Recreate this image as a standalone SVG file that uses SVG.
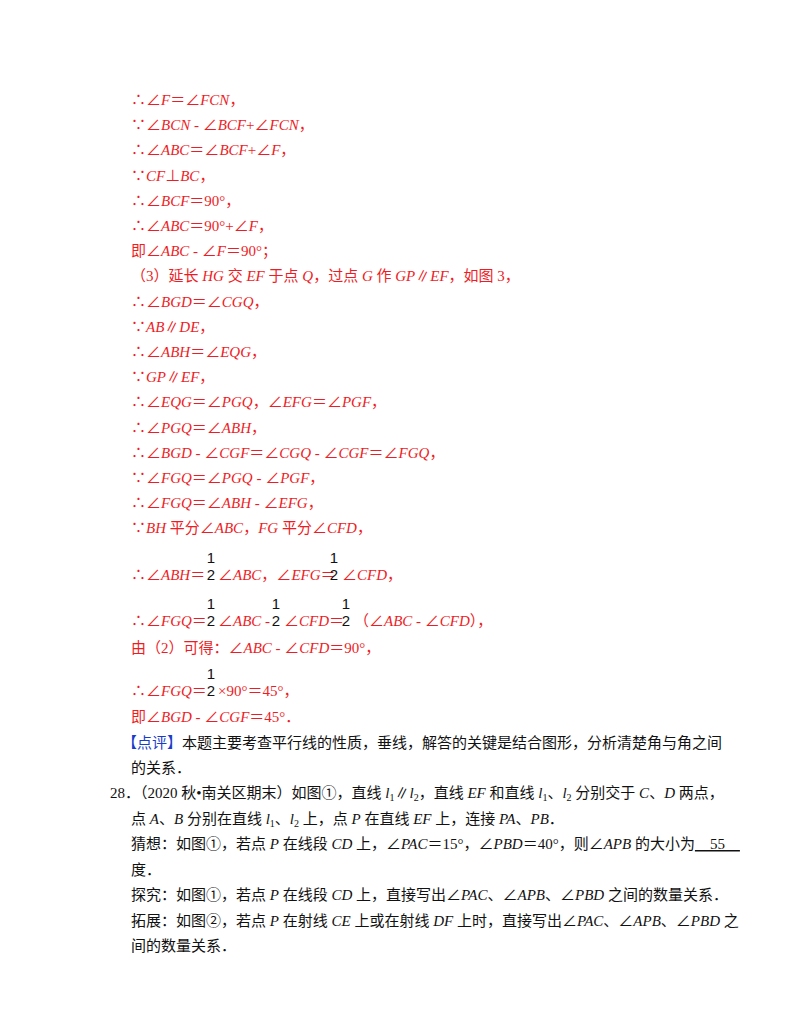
<svg xmlns="http://www.w3.org/2000/svg" width="800" height="1035" viewBox="0 0 800 1035">
<style>
text{font-family:"Liberation Serif","Noto Sans CJK SC",serif;font-size:15px}
.r{fill:#ee1c25}.k{fill:#111}.b{fill:#1a3ccc}
.i{font-style:italic}
.f{font-family:"Liberation Sans","Noto Sans CJK SC",sans-serif;font-size:15px;fill:#111;text-anchor:middle}
</style>
<rect width="800" height="1035" fill="#fff"/>
<g id="solution" class="r">
<text x="131" y="105" class="r">∴∠<tspan class="i">F</tspan>＝∠<tspan class="i">FCN</tspan>，</text>
<text x="131" y="130" class="r">∵∠<tspan class="i">BCN</tspan> - ∠<tspan class="i">BCF</tspan>+∠<tspan class="i">FCN</tspan>，</text>
<text x="131" y="155" class="r">∴∠<tspan class="i">ABC</tspan>＝∠<tspan class="i">BCF</tspan>+∠<tspan class="i">F</tspan>，</text>
<text x="131" y="181" class="r">∵<tspan class="i">CF</tspan>⊥<tspan class="i">BC</tspan>，</text>
<text x="131" y="206" class="r">∴∠<tspan class="i">BCF</tspan>＝90°，</text>
<text x="131" y="231" class="r">∴∠<tspan class="i">ABC</tspan>＝90°+∠<tspan class="i">F</tspan>，</text>
<text x="131" y="256" class="r">即∠<tspan class="i">ABC</tspan> - ∠<tspan class="i">F</tspan>＝90°；</text>
<text x="131" y="281" class="r">（3）延长 <tspan class="i">HG</tspan> 交 <tspan class="i">EF</tspan> 于点 <tspan class="i">Q</tspan>，过点 <tspan class="i">G</tspan> 作 <tspan class="i">GP</tspan>∥<tspan class="i">EF</tspan>，如图 3，</text>
<text x="131" y="307" class="r">∴∠<tspan class="i">BGD</tspan>＝∠<tspan class="i">CGQ</tspan>，</text>
<text x="131" y="332" class="r">∵<tspan class="i">AB</tspan>∥<tspan class="i">DE</tspan>，</text>
<text x="131" y="357" class="r">∴∠<tspan class="i">ABH</tspan>＝∠<tspan class="i">EQG</tspan>，</text>
<text x="131" y="382" class="r">∵<tspan class="i">GP</tspan>∥<tspan class="i">EF</tspan>，</text>
<text x="131" y="407" class="r">∴∠<tspan class="i">EQG</tspan>＝∠<tspan class="i">PGQ</tspan>，∠<tspan class="i">EFG</tspan>＝∠<tspan class="i">PGF</tspan>，</text>
<text x="131" y="433" class="r">∴∠<tspan class="i">PGQ</tspan>＝∠<tspan class="i">ABH</tspan>，</text>
<text x="131" y="458" class="r">∴∠<tspan class="i">BGD</tspan> - ∠<tspan class="i">CGF</tspan>＝∠<tspan class="i">CGQ</tspan> - ∠<tspan class="i">CGF</tspan>＝∠<tspan class="i">FGQ</tspan>，</text>
<text x="131" y="483" class="r">∵∠<tspan class="i">FGQ</tspan>＝∠<tspan class="i">PGQ</tspan> - ∠<tspan class="i">PGF</tspan>，</text>
<text x="131" y="508" class="r">∴∠<tspan class="i">FGQ</tspan>＝∠<tspan class="i">ABH</tspan> - ∠<tspan class="i">EFG</tspan>，</text>
<text x="131" y="533" class="r">∵<tspan class="i">BH</tspan> 平分∠<tspan class="i">ABC</tspan>，<tspan class="i">FG</tspan> 平分∠<tspan class="i">CFD</tspan>，</text>
<text x="131" y="580" class="r">∴∠<tspan class="i">ABH</tspan>＝</text>
<text x="218" y="580" class="r">∠<tspan class="i">ABC</tspan>，∠<tspan class="i">EFG</tspan>＝</text>
<text x="342" y="580" class="r">∠<tspan class="i">CFD</tspan>，</text>
<text x="131" y="626" class="r">∴∠<tspan class="i">FGQ</tspan>＝</text>
<text x="218" y="626" class="r">∠<tspan class="i">ABC</tspan> -</text>
<text x="284" y="626" class="r">∠<tspan class="i">CFD</tspan>＝</text>
<text x="354" y="626" class="r">（∠<tspan class="i">ABC</tspan> - ∠<tspan class="i">CFD</tspan>），</text>
<text x="131" y="653" class="r">由（2）可得：∠<tspan class="i">ABC</tspan> - ∠<tspan class="i">CFD</tspan>＝90°，</text>
<text x="131" y="696" class="r">∴∠<tspan class="i">FGQ</tspan>＝</text>
<text x="218" y="696" class="r">×90°＝45°，</text>
<text x="131" y="722" class="r">即∠<tspan class="i">BGD</tspan> - ∠<tspan class="i">CGF</tspan>＝45°．</text>
</g>
<g id="fractions">
<text x="211" y="563" class="f">1</text><text x="211" y="580" class="f">2</text>
<text x="334" y="563" class="f">1</text><text x="334" y="580" class="f">2</text>
<text x="211" y="609" class="f">1</text><text x="211" y="626" class="f">2</text>
<text x="276" y="609" class="f">1</text><text x="276" y="626" class="f">2</text>
<text x="346" y="609" class="f">1</text><text x="346" y="626" class="f">2</text>
<text x="211" y="679" class="f">1</text><text x="211" y="696" class="f">2</text>
</g>
<g id="problem" class="k">
<text x="122" y="748"><tspan class="b">【点评】</tspan><tspan class="k">本题主要考查平行线的性质，垂线，解答的关键是结合图形，分析清楚角与角之间</tspan></text>
<text x="131" y="773" class="k">的关系．</text>
<text x="110" y="798" class="k">28．（2020 秋•南关区期末）如图①，直线 <tspan class="i">l</tspan><tspan font-size="10" dy="3">1</tspan><tspan dy="-3">∥</tspan><tspan class="i">l</tspan><tspan font-size="10" dy="3">2</tspan><tspan dy="-3">，直线 </tspan><tspan class="i">EF</tspan> 和直线 <tspan class="i">l</tspan><tspan font-size="10" dy="3">1</tspan><tspan dy="-3">、</tspan><tspan class="i">l</tspan><tspan font-size="10" dy="3">2</tspan><tspan dy="-3"> 分别交于 </tspan><tspan class="i">C</tspan>、<tspan class="i">D</tspan> 两点，</text>
<text x="131" y="824" class="k">点 <tspan class="i">A</tspan>、<tspan class="i">B</tspan> 分别在直线 <tspan class="i">l</tspan><tspan font-size="10" dy="3">1</tspan><tspan dy="-3">、</tspan><tspan class="i">l</tspan><tspan font-size="10" dy="3">2</tspan><tspan dy="-3"> 上，点 </tspan><tspan class="i">P</tspan> 在直线 <tspan class="i">EF</tspan> 上，连接 <tspan class="i">PA</tspan>、<tspan class="i">PB</tspan>．</text>
<text x="131" y="849" class="k">猜想：如图①，若点 <tspan class="i">P</tspan> 在线段 <tspan class="i">CD</tspan> 上，∠<tspan class="i">PAC</tspan>＝15°，∠<tspan class="i">PBD</tspan>＝40°，则∠<tspan class="i">APB</tspan> 的大小为<tspan text-decoration="underline" xml:space="preserve">    55    </tspan></text>
<text x="131" y="875" class="k">度．</text>
<text x="131" y="900" class="k">探究：如图①，若点 <tspan class="i">P</tspan> 在线段 <tspan class="i">CD</tspan> 上，直接写出∠<tspan class="i">PAC</tspan>、∠<tspan class="i">APB</tspan>、∠<tspan class="i">PBD</tspan> 之间的数量关系．</text>
<text x="131" y="926" class="k">拓展：如图②，若点 <tspan class="i">P</tspan> 在射线 <tspan class="i">CE</tspan> 上或在射线 <tspan class="i">DF</tspan> 上时，直接写出∠<tspan class="i">PAC</tspan>、∠<tspan class="i">APB</tspan>、∠<tspan class="i">PBD</tspan> 之</text>
<text x="131" y="951" class="k">间的数量关系．</text>
</g>
</svg>
